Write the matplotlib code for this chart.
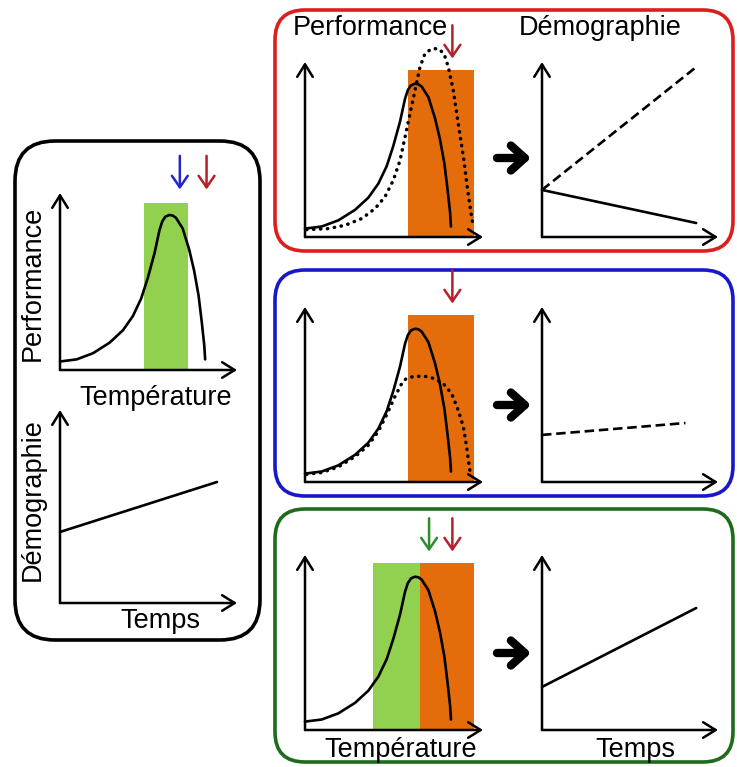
import matplotlib.pyplot as plt
from matplotlib.patches import FancyBboxPatch

W, H = 737, 767

# courbe de performance thermique actuelle (unités arbitraires, 0-100)
temp_now = [0.0, 9.4, 18.7, 28.1, 35.6, 41.2, 45.9, 49.6, 53.4, 56.2, 57.8, 59.5,
            61.8, 63.8, 65.5, 69.3, 73.0, 75.8, 78.3, 80.1, 81.5, 82.0]
perf_now = [4.8, 6.0, 9.5, 15.5, 22.5, 30.5, 40.5, 52.0, 66.0, 79.0, 84.0, 86.6,
            87.6, 87.2, 86.0, 80.0, 68.0, 56.0, 42.0, 27.0, 14.0, 6.0]

# courbe décalée vers le chaud (encadré rouge)
temp_shift = [0.9, 13.1, 22.5, 31.8, 39.3, 44.9, 49.6, 53.4, 56.2, 59.0, 61.8, 64.6,
              67.4, 71.2, 74.9, 78.1, 80.5, 83.3, 86.1, 89.0, 91.4, 93.3, 94.6]
perf_shift = [4.2, 4.8, 6.7, 10.5, 16.2, 22.9, 32.4, 43.8, 57.1, 70.5, 83.8, 97.1,
              104.8, 107.6, 107.6, 104.8, 97.1, 83.8, 64.8, 45.7, 26.7, 13.3, 5.7]

# courbe élargie (encadré bleu)
temp_wide = [0.9, 9.4, 18.7, 28.1, 35.6, 41.2, 45.9, 50.6, 54.3, 57.1, 61.8, 67.4,
             73.0, 77.7, 82.4, 86.1, 89.0, 90.8, 92.3, 93.1]
perf_wide = [4.4, 5.4, 8.6, 14.5, 21.0, 29.0, 38.5, 49.0, 56.2, 59.4, 60.4, 60.4,
             59.0, 56.2, 50.5, 41.0, 31.4, 20.0, 8.6, 3.8]

# gammes de températures (début, fin, hauteur)
range_now_left = [47.6, 72.4, 94.2]
range_future = [57.9, 94.9, 95.5]
range_now_green = [38.2, 64.6, 95.5]

# températures moyennes signalées par les flèches
t_now = 67.7
t_future = 82.8
t_green = 69.7

# démographie au cours du temps
time_left = [0, 88.7]
demo_left = [36.8, 62.7]
time_demo = [0, 87.6]
demo_red_dashed = [26.9, 97.1]
demo_red_solid = [26.9, 8.0]
time_blue = [0, 81.5]
demo_blue = [26.9, 33.7]
demo_green = [24.6, 69.7]

ORANGE = '#e46c0a'
LGREEN = '#92d050'
DRED = '#b3202a'
FONT = 'Liberation Sans'

fig = plt.figure(figsize=(W / 100, H / 100), dpi=100)
canvas = fig.add_axes([0, 0, 1, 1])
canvas.set_xlim(0, W)
canvas.set_ylim(H, 0)
canvas.axis('off')


def box(x0, y0, x1, y1, color, r=30):
    canvas.add_patch(FancyBboxPatch((x0, y0), x1 - x0, y1 - y0,
                                    boxstyle=f'round,pad=0,rounding_size={r}',
                                    fc='none', ec=color, lw=2.6))


def panel(x0, y0, w, h):
    ax = fig.add_axes([x0 / W, 1 - y0 / H, w / W, h / H])
    ax.set_xlim(0, 100)
    ax.set_ylim(0, 100)
    ax.axis('off')
    for end in [(100, 0), (0, 100)]:
        ax.annotate('', xy=end, xytext=(0, 0), annotation_clip=False,
                    arrowprops=dict(arrowstyle='->,head_length=0.45,head_width=0.28',
                                    lw=1.8, color='black', shrinkA=0, shrinkB=0,
                                    mutation_scale=20), zorder=5)
    return ax


def curve(ax, t, p, style='solid'):
    kw = dict(color='black', zorder=3, clip_on=False, solid_capstyle='round')
    if style == 'dots':
        kw.update(lw=2.5, ls=(0, (0.1, 1.9)), dash_capstyle='round')
    elif style == 'dashes':
        kw.update(lw=1.9, ls=(0, (3.6, 1.8)), dash_capstyle='butt')
    else:
        kw.update(lw=1.9)
    ax.plot(t, p, **kw)


def down_arrow(ax, t, color):
    ax.annotate('', xy=(t, 102), xytext=(t, 121), annotation_clip=False,
                arrowprops=dict(arrowstyle='->,head_length=0.55,head_width=0.38',
                                lw=1.8, color=color, shrinkA=0, shrinkB=0,
                                mutation_scale=15))


def big_arrow(y):
    canvas.annotate('', xy=(531, y), xytext=(497, y),
                    arrowprops=dict(arrowstyle='->,head_length=0.5,head_width=0.45',
                                    lw=6, color='black', shrinkA=0, shrinkB=0,
                                    mutation_scale=20))


def span(ax, rng, color):
    ax.bar(rng[0], rng[2], width=rng[1] - rng[0], align='edge', color=color,
           lw=0, zorder=1)


# encadrés
box(15, 141, 260, 640, 'black', r=40)
box(275, 10, 733, 251, '#dc1e1e')
box(275, 270, 733, 496, '#1818c8')
box(275, 509, 733, 762, '#1e6b1e')

# situation actuelle
ax = panel(60, 370, 177, 177)
span(ax, range_now_left, LGREEN)
curve(ax, temp_now, perf_now)
down_arrow(ax, t_now, '#2525cc')
down_arrow(ax, t_future, DRED)

ax = panel(60, 603, 177, 193)
curve(ax, time_left, demo_left)

# encadré rouge
ax = panel(305, 237, 178, 175)
span(ax, range_future, ORANGE)
curve(ax, temp_shift, perf_shift, 'dots')
curve(ax, temp_now, perf_now)
down_arrow(ax, t_future, DRED)

ax = panel(542, 237, 176, 175)
curve(ax, time_demo, demo_red_dashed, 'dashes')
curve(ax, time_demo, demo_red_solid)

# encadré bleu
ax = panel(305, 482, 178, 175)
span(ax, range_future, ORANGE)
curve(ax, temp_wide, perf_wide, 'dots')
curve(ax, temp_now, perf_now)
down_arrow(ax, t_future, DRED)

ax = panel(542, 482, 176, 175)
curve(ax, time_blue, demo_blue, 'dashes')

# encadré vert
ax = panel(305, 730, 178, 175)
span(ax, range_now_green, LGREEN)
span(ax, [range_now_green[1], range_future[1], range_future[2]], ORANGE)
curve(ax, temp_now, perf_now)
down_arrow(ax, t_green, '#2e8b2e')
down_arrow(ax, t_future, DRED)

ax = panel(542, 730, 176, 175)
curve(ax, time_demo, demo_green)

# flèches entre les graphiques
for y in [158, 405, 653]:
    big_arrow(y)

# textes
txt = dict(fontsize=19.5, family=FONT, color='black')
canvas.text(33, 283, 'Performance', rotation=90, ha='center', va='center', **txt)
canvas.text(156, 405, 'Température', ha='center', va='baseline', **txt)
canvas.text(33, 500, 'Démographie', rotation=90, ha='center', va='center', **txt)
canvas.text(160, 628, 'Temps', ha='center', va='baseline', **txt)
canvas.text(370, 35, 'Performance', ha='center', va='baseline', **txt)
canvas.text(600, 35, 'Démographie', ha='center', va='baseline', **txt)
canvas.text(401, 757, 'Température', ha='center', va='baseline', **txt)
canvas.text(635, 757, 'Temps', ha='center', va='baseline', **txt)

fig.savefig('out.png', dpi=100)
